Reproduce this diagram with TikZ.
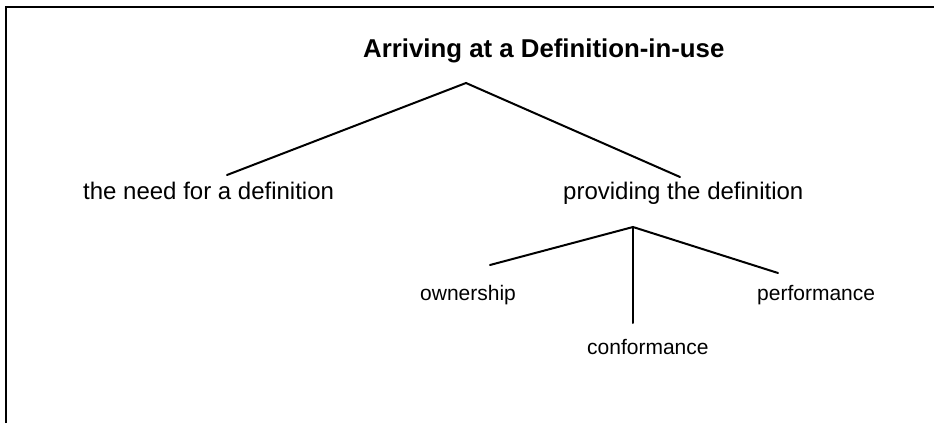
\documentclass[tikz,border=0pt]{standalone}
\usepackage{fontspec}
\setmainfont{Liberation Sans}
\begin{document}
\begin{tikzpicture}[x=1pt,y=-1pt,
  titletext/.style={anchor=base west,inner sep=0pt,font=\fontsize{25.8}{30}\selectfont\bfseries},
  midtext/.style={anchor=base west,inner sep=0pt,font=\fontsize{24}{29}\selectfont},
  leaftext/.style={anchor=base west,inner sep=0pt,font=\fontsize{21}{25}\selectfont},
  branch/.style={line width=2pt,line cap=round},
  frameline/.style={line width=2.2pt}]
\useasboundingbox (0,0) rectangle (934,423);
% open frame: top and left edges
\coordinate (fTL) at (6,7);
\coordinate (fTR) at (934,7);
\coordinate (fBL) at (6,423);
\draw[frameline] (fBL) -- (fTL) -- (fTR);
% labels
\node[titletext] (title) at (363,57) {Arriving at a Definition-in-use};
\node[midtext] (need) at (83,199) {the need for a definition};
\node[midtext] (prov) at (563,199) {providing the definition};
\node[leaftext] (own) at (420,300) {ownership};
\node[leaftext] (conf) at (587,354) {conformance};
\node[leaftext] (perf) at (757,300) {performance};
% branch points and branch ends
\coordinate (top) at (466,83);
\coordinate (needEnd) at (227,175);
\coordinate (provEnd) at (680,177);
\coordinate (sub) at (633,227);
\coordinate (ownEnd) at (490,265);
\coordinate (confEnd) at (633,323);
\coordinate (perfEnd) at (778,273);
\draw[branch] (needEnd) -- (top) -- (provEnd);
\draw[branch] (ownEnd) -- (sub) -- (perfEnd);
\draw[branch] (sub) -- (confEnd);
\end{tikzpicture}
\end{document}
